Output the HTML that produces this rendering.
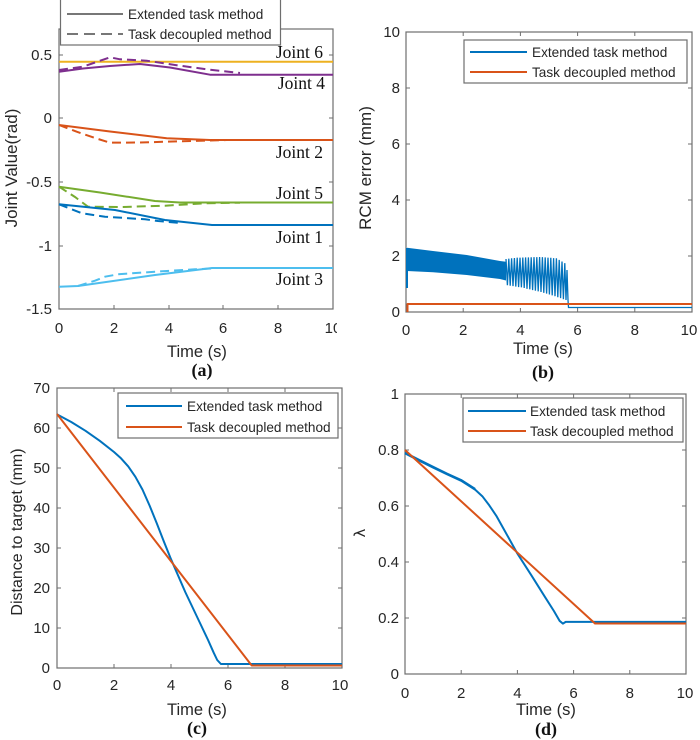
<!DOCTYPE html>
<html><head><meta charset="utf-8"><style>
html,body{margin:0;padding:0;background:#fff;}
svg{display:block;}
.tk{font-family:"Liberation Sans",Arial,sans-serif;font-size:15px;fill:#262626;}
.al{font-family:"Liberation Sans",Arial,sans-serif;font-size:16.5px;fill:#262626;}
.lg{font-family:"Liberation Sans",Arial,sans-serif;font-size:13.6px;fill:#262626;}
.jn{font-family:"Liberation Serif","Times New Roman",serif;font-size:17.5px;fill:#111;}
.fl{font-family:"Liberation Serif","Times New Roman",serif;font-size:18px;font-weight:bold;fill:#111;}
.ax{fill:none;stroke:#6e6e6e;stroke-width:1.2;}
.tick{stroke:#6e6e6e;stroke-width:1;}
.ln{fill:none;stroke-width:2;stroke-linejoin:round;}
.ds{fill:none;stroke-width:2;stroke-dasharray:9,5;}
</style></head><body>
<svg width="700" height="740" viewBox="0 0 700 740" xmlns="http://www.w3.org/2000/svg">
<rect width="700" height="740" fill="#fff"/>

<!-- ============ Panel (a) ============ -->
<rect class="ax" x="59" y="29" width="274" height="280"/>
<g class="tick">
<path d="M114,309v-4M169,309v-4M223,309v-4M278,309v-4M114,29v4M169,29v4M223,29v4M278,29v4"/>
<path d="M59,55h4M59,118h4M59,182h4M59,246h4M333,55h-4M333,118h-4M333,182h-4M333,246h-4"/>
</g>
<path class="ln" stroke="#EDB120" d="M59,61.7H333"/>
<path class="ln" stroke="#7E2F8E" d="M59,71.7L83,68.5L110,66L140,64L170,67.5L210,74.7H333"/>
<path class="ds" stroke="#7E2F8E" d="M59,70L83,66.7L110,57.3L120,59.3L146.7,60.7L175,65L206.7,69.3L240,73"/>
<path class="ln" stroke="#D95319" d="M59,125L110,131.5L166.7,138.3L210,140H333"/>
<path class="ds" stroke="#D95319" d="M59,125L76.7,131.7L95,138L110,142.7L140,142.5L166.7,141.7L226.7,140"/>
<path class="ln" stroke="#77AC30" d="M59,186.7L100,192.5L155,201L180,202.5H333"/>
<path class="ds" stroke="#77AC30" d="M59,186.7L75,197L88,206.7L122,207L165,205.7L205,203.3L240,202.7"/>
<path class="ln" stroke="#0072BD" d="M59,204.3L115,210L165,220L212,225H333"/>
<path class="ds" stroke="#0072BD" d="M59,204.3L82,213.3L105,216.7L145,219.3L158,221L180,223"/>
<path class="ln" stroke="#4DBEEE" d="M59,286.7L78,286L155,275L212,268H333"/>
<path class="ds" stroke="#4DBEEE" d="M78,286L95,280.7L105,276.7L118,274.3L155,271.7L195,269.3L215,268.3"/>
<text class="jn" x="323" y="58" text-anchor="end">Joint 6</text>
<text class="jn" x="325" y="89" text-anchor="end">Joint 4</text>
<text class="jn" x="323" y="158" text-anchor="end">Joint 2</text>
<text class="jn" x="323" y="199" text-anchor="end">Joint 5</text>
<text class="jn" x="323" y="243" text-anchor="end">Joint 1</text>
<text class="jn" x="323" y="285" text-anchor="end">Joint 3</text>
<rect x="60.5" y="-1" width="220" height="46" fill="#fff" stroke="#6e6e6e" stroke-width="1.2"/>
<path d="M67,14H123" stroke="#777" stroke-width="2"/>
<path d="M67,34H123" stroke="#777" stroke-width="2" stroke-dasharray="11,6"/>
<text class="lg" x="128" y="19">Extended task method</text>
<text class="lg" x="128" y="39">Task decoupled method</text>
<g class="tk" text-anchor="end">
<text x="52" y="60">0.5</text><text x="52" y="123">0</text><text x="52" y="187">-0.5</text><text x="52" y="251">-1</text><text x="52" y="314">-1.5</text>
</g>
<g class="tk" text-anchor="middle">
<text x="59" y="333">0</text><text x="114" y="333">2</text><text x="169" y="333">4</text><text x="223" y="333">6</text><text x="278" y="333">8</text><text x="333" y="333">10</text>
</g>
<rect x="337" y="316" width="12" height="24" fill="#fff"/>
<text class="al" x="197" y="357" text-anchor="middle">Time (s)</text>
<text class="al" transform="translate(17,168) rotate(-90)" text-anchor="middle" style="font-size:17px">Joint Value(rad)</text>
<text class="fl" x="202" y="376" text-anchor="middle">(a)</text>

<!-- ============ Panel (b) ============ -->
<rect class="ax" x="406" y="32" width="286" height="280"/>
<g class="tick">
<path d="M463.2,312v-4M520.4,312v-4M577.6,312v-4M634.8,312v-4M463.2,32v4M520.4,32v4M577.6,32v4M634.8,32v4"/>
<path d="M406,256h4M406,200h4M406,144h4M406,88h4M692,256h-4M692,200h-4M692,144h-4M692,88h-4"/>
</g>
<path fill="#0072BD" d="M407,247.7L433,251L466.7,255L500,261L506,261.7L506,280.5L500,279L466.7,275L433,272.3L407,271Z"/>
<path class="ln" stroke="#0072BD" stroke-width="1.6" d="M407,288V248"/>
<path fill="none" stroke="#0072BD" stroke-width="1.3" stroke-linejoin="miter" d="M506,259L507.4,285.2L508.8,258.7L510.2,285.7L511.6,258.3L513,286.1L514.4,258L515.8,286.6L517.2,257.7L518.6,287.1L520,257.6L521.4,287.4L522.8,257.5L524.2,288L525.6,257.4L527,288.9L528.4,257.4L529.8,289.3L531.2,257.3L532.6,290.1L534,257.2L535.4,290.7L536.8,257.1L538.2,291.3L539.6,257L541,292L542.4,257.2L543.8,292.8L545.2,257.4L546.6,293.6L548,257.6L549.4,294.5L550.8,257.8L552.2,295.3L553.6,258.1L555,296.2L556.4,258.3L557.8,297.2L559.2,259.9L560.6,298.1L562,261.5L563.4,299.2L564.8,263.2L566,300L567,270L568,300L568.5,307.5H692"/>
<path class="ln" stroke="#D95319" d="M407.5,312V304H692"/>
<rect x="464" y="40" width="223" height="43" fill="#fff" stroke="#6e6e6e" stroke-width="1.2"/>
<path d="M470,52H527" stroke="#0072BD" stroke-width="2"/>
<path d="M470,72H527" stroke="#D95319" stroke-width="2"/>
<text class="lg" x="532" y="57">Extended task method</text>
<text class="lg" x="532" y="77">Task decoupled method</text>
<g class="tk" text-anchor="end">
<text x="400" y="37">10</text><text x="400" y="93">8</text><text x="400" y="149">6</text><text x="400" y="205">4</text><text x="400" y="261">2</text><text x="400" y="317">0</text>
</g>
<g class="tk" text-anchor="middle">
<text x="406" y="335">0</text><text x="463.2" y="335">2</text><text x="520.4" y="335">4</text><text x="577.6" y="335">6</text><text x="634.8" y="335">8</text><text x="689" y="335">10</text>
</g>
<text class="al" x="543" y="354" text-anchor="middle">Time (s)</text>
<text class="al" transform="translate(371,168) rotate(-90)" text-anchor="middle" style="font-size:17px">RCM error (mm)</text>
<text class="fl" x="543" y="378" text-anchor="middle">(b)</text>

<!-- ============ Panel (c) ============ -->
<rect class="ax" x="57" y="388" width="285" height="280"/>
<g class="tick">
<path d="M114,668v-4M171,668v-4M228,668v-4M285,668v-4M114,388v4M171,388v4M228,388v4M285,388v4"/>
<path d="M57,628h4M57,588h4M57,548h4M57,508h4M57,468h4M57,428h4M342,628h-4M342,588h-4M342,548h-4M342,508h-4M342,468h-4M342,428h-4"/>
</g>
<path class="ln" stroke="#0072BD" d="M57,414.4L71.25,422L85.5,430.8L99.75,440.8L114,452L121.1,458.4L128.25,466.4L135.4,476.8L142.5,489.6L149.6,505.6L156.75,523.2L163.9,541.6L171,559.2L185.25,592L199.5,622L208.05,640L213.75,652.8L217.2,660L220.9,664H342"/>
<path class="ln" stroke="#D95319" d="M57,414L251.7,665.5H342"/>
<rect x="118" y="393" width="220" height="45" fill="#fff" stroke="#6e6e6e" stroke-width="1.2"/>
<path d="M126,406H182" stroke="#0072BD" stroke-width="2"/>
<path d="M126,427H182" stroke="#D95319" stroke-width="2"/>
<text class="lg" x="187" y="411">Extended task method</text>
<text class="lg" x="187" y="432">Task decoupled method</text>
<g class="tk" text-anchor="end">
<text x="50" y="393">70</text><text x="50" y="433">60</text><text x="50" y="473">50</text><text x="50" y="513">40</text><text x="50" y="553">30</text><text x="50" y="593">20</text><text x="50" y="633">10</text><text x="50" y="673">0</text>
</g>
<g class="tk" text-anchor="middle">
<text x="57" y="690">0</text><text x="114" y="690">2</text><text x="171" y="690">4</text><text x="228" y="690">6</text><text x="285" y="690">8</text><text x="340" y="690">10</text>
</g>
<text class="al" x="197" y="715" text-anchor="middle">Time (s)</text>
<text class="al" transform="translate(22,532) rotate(-90)" text-anchor="middle" style="font-size:16px">Distance to target (mm)</text>
<text class="fl" x="197" y="734" text-anchor="middle">(c)</text>

<!-- ============ Panel (d) ============ -->
<rect class="ax" x="405" y="394" width="281" height="280"/>
<g class="tick">
<path d="M461.2,674v-4M517.4,674v-4M573.6,674v-4M629.8,674v-4M461.2,394v4M517.4,394v4M573.6,394v4M629.8,394v4"/>
<path d="M405,618h4M405,562h4M405,506h4M405,450h4M686,618h-4M686,562h-4M686,506h-4M686,450h-4"/>
</g>
<path class="ln" stroke="#0072BD" stroke-width="3" d="M405,452.6L419.05,459.8L433.1,466.8L447.15,473.6L461.2,480L475.25,489"/>
<path class="ln" stroke="#0072BD" d="M405,453.4L419.05,460.6L433.1,467.6L447.15,474.4L461.2,480.8L475.25,489.8L482.3,496.2L489.3,505.4L496.3,515.8L503.35,528.4L510.4,541L517.4,553.6L531.45,575.4L545.5,597.8L553.9,611L559.55,620.8L562.9,623.6L565.7,621.9H686"/>
<path class="ln" stroke="#D95319" d="M405,450L595,623.5H686"/>
<rect x="463" y="398" width="220" height="44" fill="#fff" stroke="#6e6e6e" stroke-width="1.2"/>
<path d="M468,411H526" stroke="#0072BD" stroke-width="2"/>
<path d="M468,431H526" stroke="#D95319" stroke-width="2"/>
<text class="lg" x="530" y="416">Extended task method</text>
<text class="lg" x="530" y="436">Task decoupled method</text>
<g class="tk" text-anchor="end">
<text x="399" y="399">1</text><text x="399" y="455">0.8</text><text x="399" y="511">0.6</text><text x="399" y="567">0.4</text><text x="399" y="623">0.2</text><text x="399" y="679">0</text>
</g>
<g class="tk" text-anchor="middle">
<text x="405" y="698">0</text><text x="461.2" y="698">2</text><text x="517.4" y="698">4</text><text x="573.6" y="698">6</text><text x="629.8" y="698">8</text><text x="685" y="698">10</text>
</g>
<text class="al" x="546" y="715" text-anchor="middle">Time (s)</text>
<text class="al" transform="translate(365,533) rotate(-90)" text-anchor="middle" style="font-family:'DejaVu Sans','Liberation Sans',sans-serif;font-size:15px">λ</text>
<text class="fl" x="546" y="735" text-anchor="middle">(d)</text>
</svg>
</body></html>
